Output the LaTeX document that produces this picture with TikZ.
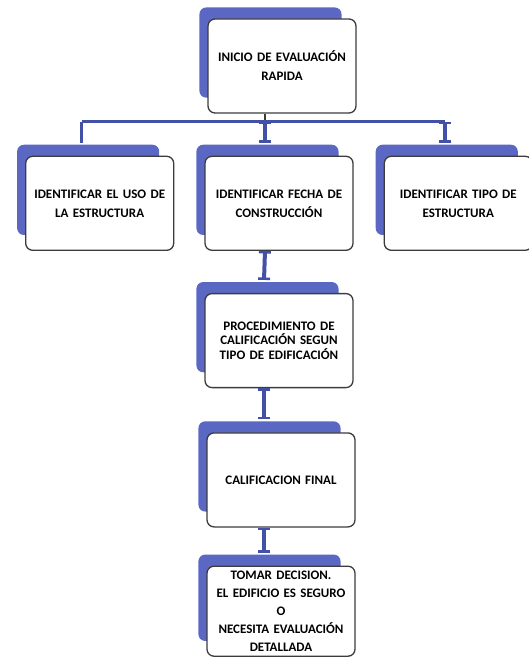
\documentclass[tikz,border=0pt]{standalone}
\usepackage{fontspec}
\setmainfont{Carlito}
\usepackage{tikz}
\usetikzlibrary{positioning, shadows, arrows.meta}
\definecolor{ShadeBlue}{HTML}{5A68C4}
\definecolor{LinkBlue}{HTML}{4350A8}
\definecolor{BoxEdge}{HTML}{3C3C3C}
\tikzset{
  % Box styles
  flowbox/.style={rectangle, rounded corners=7pt, draw=BoxEdge, line width=1.3pt, fill=white, minimum width=148pt, minimum height=94pt, inner sep=2pt, text width=144pt, align=center, font=\fontsize{13}{19}\selectfont\bfseries, general shadow={fill=ShadeBlue, shadow scale=0.96, shadow xshift=-12pt, shadow yshift=14pt}},
  % Connector styles
  link/.style={LinkBlue, line width=4pt, {Bar[width=12pt, line width=2.5pt]}-{Bar[width=12pt, line width=2.5pt]}},
  busline/.style={LinkBlue, line width=3.5pt},
  drop/.style={BoxEdge, line width=2pt}
}
\begin{document}
\begin{tikzpicture}
  \useasboundingbox (0pt,0pt) rectangle (529pt,-658pt);
  % Boxes
  \node[flowbox] (inicio) at (282pt,-66pt) {INICIO DE EVALUACIÓN\\RAPIDA};
  \node[flowbox, below=42pt of inicio, xshift=-3pt] (fecha) {IDENTIFICAR FECHA DE\\CONSTRUCCIÓN};
  \node[flowbox, left=30pt of fecha] (uso) {IDENTIFICAR EL USO DE\\LA ESTRUCTURA};
  \node[flowbox, right=30pt of fecha] (tipo) {IDENTIFICAR TIPO DE\\ESTRUCTURA};
  \node[flowbox, below=42pt of fecha, font=\fontsize{13}{14.5}\selectfont\bfseries] (proc) {PROCEDIMIENTO DE\\CALIFICACIÓN SEGUN\\TIPO DE EDIFICACIÓN};
  \node[flowbox, below=44pt of proc, xshift=2pt] (calif) {CALIFICACION FINAL};
  \node[flowbox, below=38pt of calif, minimum height=90pt, inner sep=1pt, font=\fontsize{13}{18}\selectfont\bfseries] (decision) {TOMAR DECISION.\\EL EDIFICIO ES SEGURO\\O\\NECESITA EVALUACIÓN\\DETALLADA};
  % Connectors
  \coordinate (busL) at ([xshift=-18pt,yshift=34pt]uso.north);
  \coordinate (busR) at ([xshift=-13pt,yshift=34pt]tipo.north);
  \draw[drop] ([xshift=-17pt]inicio.south) -- ([xshift=-17pt]inicio.south |- busL);
  \draw[busline] (busL) -- (busR);
  \draw[busline] (busL) -- ([xshift=-18pt,yshift=13pt]uso.north);
  \draw[link] ([xshift=-14pt]fecha.north |- busL) -- ([xshift=-14pt,yshift=13pt]fecha.north);
  \draw[link] (busR) -- ([xshift=-13pt,yshift=13pt]tipo.north);
  \draw[link] ([xshift=-14pt]fecha.south) -- ([xshift=-15pt,yshift=13pt]proc.north);
  \draw[link] ([xshift=-15pt]proc.south) -- ([xshift=-17pt,yshift=13pt]calif.north);
  \draw[link] ([xshift=-17pt]calif.south) -- ([xshift=-17pt,yshift=13pt]decision.north);
\end{tikzpicture}
\end{document}
